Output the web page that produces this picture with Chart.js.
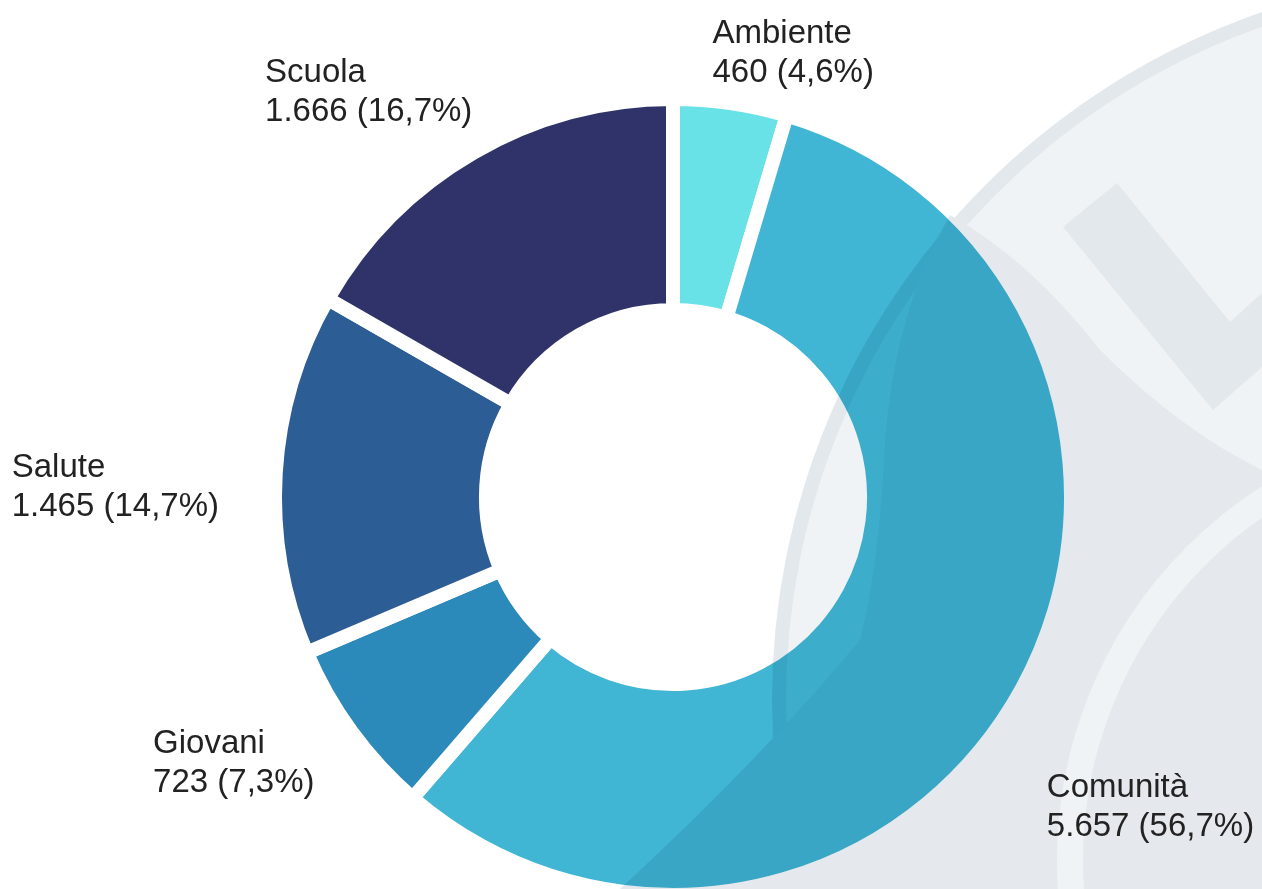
<!DOCTYPE html>
<html lang="it">
<head>
<meta charset="utf-8">
<title>Iniziative per area</title>
<script src="https://cdn.jsdelivr.net/npm/chart.js@4.4.0/dist/chart.umd.min.js"></script>
<style>
html, body { margin: 0; padding: 0; background: #fff; }
#wrap { width: 1262px; height: 889px; position: relative; overflow: hidden; }
</style>
</head>
<body>
<div id="wrap"><canvas id="areaChart" width="1262" height="889"></canvas></div>
<script>
var categories = ["Ambiente", "Comunità", "Giovani", "Salute", "Scuola"];
var values = [460, 5657, 723, 1465, 1666];
var sliceColors = ["#68E2E6", "#40B6D4", "#2C8ABB", "#2D5D95", "#30336A"];
// nudge from the outer middle of each slice to the first text baseline
var labelNudge = [[-17, -67], [31, 112], [-204, 26], [-271, 3], [-212, -77]];

var total = values.reduce(function (a, b) { return a + b; }, 0);

function formatInt(n) {
    return String(n).replace(/\B(?=(\d{3})+(?!\d))/g, ".");
}
function formatPct(v) {
    return (v / total * 100).toFixed(1).replace(".", ",") + "%";
}

// pale logo in the background, multiplied over the chart like the original
function drawLogo(c) {
    c.fillStyle = "#fff";
    c.fillRect(0, 0, 1262, 889);
    c.fillStyle = "#E3E8EC";
    c.beginPath(); c.arc(1500, 700, 728, 0, Math.PI * 2); c.fill();
    c.fillStyle = "#F0F3F5";
    c.beginPath(); c.arc(1500, 700, 714, 0, Math.PI * 2); c.fill();
    // lion manes
    c.fillStyle = "#E5E9ED";
    c.beginPath();
    c.moveTo(950, 215);
    c.quadraticCurveTo(895, 310, 885, 440);
    c.quadraticCurveTo(880, 560, 860, 640);
    c.quadraticCurveTo(760, 760, 620, 889);
    c.lineTo(1262, 889);
    c.lineTo(1262, 470);
    c.quadraticCurveTo(1180, 430, 1100, 350);
    c.quadraticCurveTo(1030, 260, 950, 215);
    c.fill();
    // the "L"
    c.fillStyle = "#E3E8EC";
    c.beginPath();
    c.moveTo(1063, 227); c.lineTo(1117, 183); c.lineTo(1230, 322);
    c.lineTo(1262, 293); c.lineTo(1262, 367); c.lineTo(1213, 410);
    c.closePath(); c.fill();
    // inner ring
    c.strokeStyle = "#F0F3F5";
    c.lineWidth = 26;
    c.beginPath(); c.arc(1500, 860, 430, 0, Math.PI * 2); c.stroke();
}

var logoPlugin = {
    id: "logo",
    beforeDraw: function (chart) {
        var ctx = chart.ctx;
        ctx.save();
        ctx.fillStyle = "#fff";
        ctx.fillRect(0, 0, chart.width, chart.height);
        ctx.restore();
    },
    afterDatasetsDraw: function (chart) {
        var off = document.createElement("canvas");
        off.width = chart.width;
        off.height = chart.height;
        drawLogo(off.getContext("2d"));
        var ctx = chart.ctx;
        ctx.save();
        ctx.globalCompositeOperation = "multiply";
        ctx.drawImage(off, 0, 0);
        ctx.restore();
    }
};

var sliceLabels = {
    id: "sliceLabels",
    afterDraw: function (chart) {
        var ctx = chart.ctx;
        var meta = chart.getDatasetMeta(0);
        var bw = chart.data.datasets[0].borderWidth;
        ctx.save();
        ctx.font = "33px 'Liberation Sans', Arial, sans-serif";
        ctx.fillStyle = "#222";
        ctx.textAlign = "left";
        ctx.textBaseline = "alphabetic";
        meta.data.forEach(function (arc, i) {
            var p = arc.getProps(["x", "y", "startAngle", "endAngle", "outerRadius"], true);
            var mid = (p.startAngle + p.endAngle) / 2;
            var r = p.outerRadius - bw / 2;
            var x = p.x + Math.cos(mid) * r + labelNudge[i][0];
            var y = p.y + Math.sin(mid) * r + labelNudge[i][1];
            ctx.fillText(categories[i], x, y);
            ctx.fillText(formatInt(values[i]) + " (" + formatPct(values[i]) + ")", x, y + 39);
        });
        ctx.restore();
    }
};

window.onload = function () {
    var context = document.getElementById("areaChart").getContext("2d");
    this.areaChart = new Chart(context, {
        type: "doughnut",
        data: {
            labels: categories,
            datasets: [{
                data: values,
                backgroundColor: sliceColors,
                borderColor: "#fff",
                borderWidth: 14,
                hoverOffset: 0
            }]
        },
        options: {
            responsive: false,
            animation: false,
            events: [],
            radius: 398,
            cutout: "47%",
            layout: { padding: { left: 84, right: 0, top: 105, bottom: 0 } },
            plugins: {
                legend: { display: false },
                tooltip: { enabled: false }
            }
        },
        plugins: [logoPlugin, sliceLabels]
    });
};
</script>
</body>
</html>
